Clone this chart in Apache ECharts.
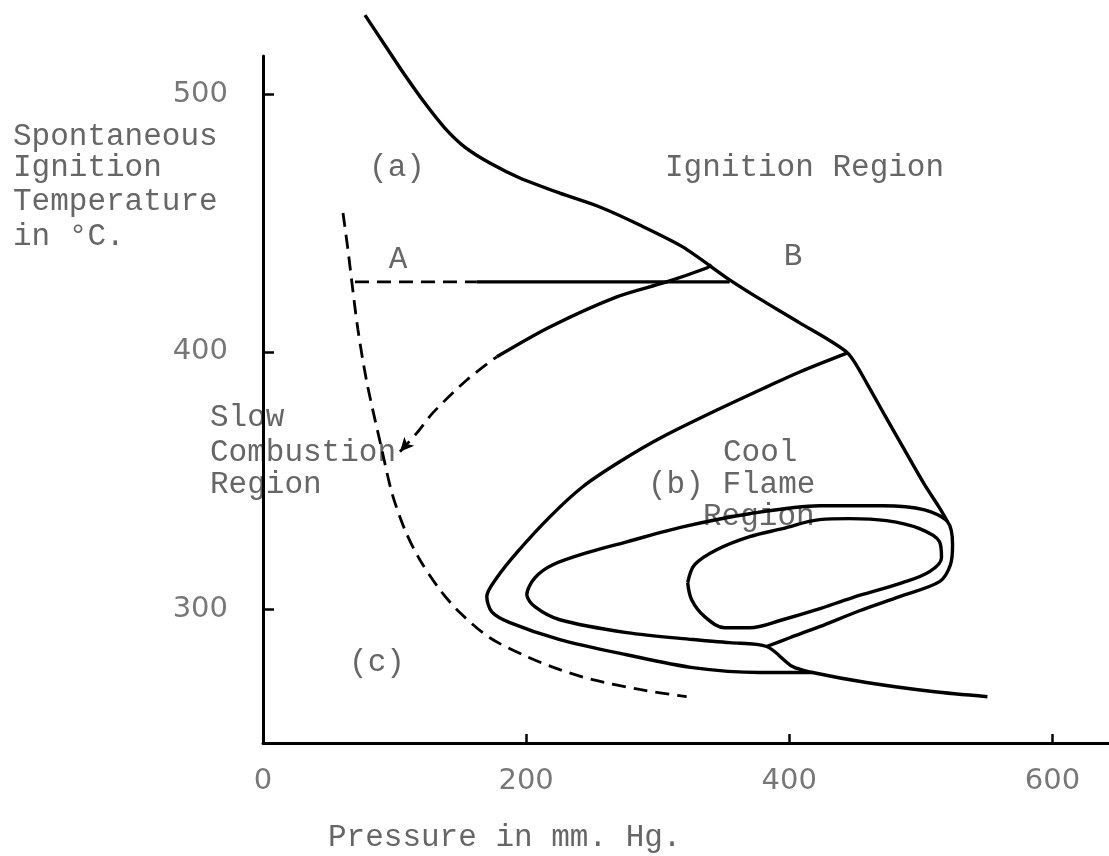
<!DOCTYPE html>
<html>
<head>
<meta charset="utf-8">
<script src="https://cdn.jsdelivr.net/npm/echarts@6/dist/echarts.min.js"></script>
<style>
html,body{margin:0;padding:0;background:#fff;}
#c{width:1109px;height:856px;}
</style>
</head>
<body>
<div id="c"></div>
<script>
// Axis ticks
const xTickValues = [200, 400, 600];
const xLabelValues = [0, 200, 400, 600];
const yTickValues = [300, 400, 500];

// Curves: [pressure (mm Hg), temperature (°C)]
const ignitionBoundary = [[77.5,530.9],[92.7,519.2],[107.8,507.6],[123.0,496.7],[138.2,487.0],[153.4,479.6],[172.4,473.4],[195.2,467.6],[225.6,461.7],[256.0,456.3],[286.3,449.3],[319.0,440.8],[354.7,428.0],[377.5,420.6],[407.9,411.3],[444.3,399.6],[458.7,388.0],[472.4,375.5],[487.6,361.9],[502.8,348.4],[514.2,339.4],[520.3,334.0]];
const coolFlameOuter = [[444.3,399.6],[407.9,392.2],[382.8,386.4],[347.1,377.9],[303.8,367.0],[271.1,357.3],[243.0,347.6],[218.0,335.9],[192.9,322.0],[177.7,312.2],[170.1,304.9],[173.9,299.0],[187.6,294.8],[225.6,288.2],[276.5,282.3],[326.6,277.3],[377.5,275.4],[417.7,275.4]];
const middleLoop = [[550.6,266.0],[508.9,268.0],[458.7,271.5],[417.7,275.4],[402.5,277.7],[382.8,285.5],[354.7,287.0],[326.6,288.2],[276.5,290.9],[225.6,295.9],[206.6,301.0],[200.5,305.6],[206.6,312.2],[220.3,317.3],[248.4,322.3],[276.5,326.2],[319.0,332.0],[369.9,337.1],[423.0,340.2],[470.9,340.2],[502.8,338.6],[520.3,334.0],[524.1,325.1],[522.5,317.3],[514.2,310.7],[483.8,304.9],[453.4,299.4],[423.0,293.2],[400.3,288.9],[382.8,285.5]];
const innerLoop = [[322.8,310.3],[328.1,317.3],[344.8,323.1],[369.9,328.2],[394.9,331.3],[423.0,334.8],[445.8,335.2],[473.9,334.4],[499.0,331.3],[514.2,326.2],[515.7,320.0],[506.6,314.6],[486.1,310.3],[448.1,304.5],[420.8,299.8],[394.9,295.9],[369.9,292.8],[350.9,292.8],[335.7,297.1],[325.8,303.7],[322.8,310.3]];
const slowBoundary = [[60.8,454.0],[64.6,439.6],[67.6,426.8],[72.2,408.5],[79.0,388.0],[90.4,361.9],[98.0,345.2],[107.8,330.9],[119.2,319.2],[134.4,307.6],[149.6,298.7],[172.4,288.9],[200.5,281.6],[225.6,276.5],[250.6,272.6],[286.3,268.8],[322.0,266.0]];
const lineABDashed = [[69.9,427.2],[162.5,427.2]];
const lineABSolid = [[162.5,427.2],[354.7,427.2]];
const arrowCurveDashed = [[104.1,361.2],[117.0,368.5],[129.1,376.3],[154.9,389.1],[177.7,398.1]];
const arrowCurveSolid = [[177.7,398.1],[218.0,409.7],[268.9,421.4],[306.8,427.2],[337.2,432.6],[341.0,433.8]];

const chart = echarts.init(document.getElementById('c'), null, {renderer:'canvas'});
const TXT = '#666';
const MONO = '"Liberation Mono", "DejaVu Sans Mono", monospace';
const FS = 31;

function solid(data, smooth) {
  return {type:'line', data:data, showSymbol:false, symbol:'none', smooth:smooth, clip:false,
    lineStyle:{color:'#000', width:3.4}, silent:true, animation:false};
}
function dashed(data, smooth) {
  return {type:'line', data:data, showSymbol:false, symbol:'none', smooth:smooth, clip:false,
    lineStyle:{color:'#000', width:2.8, type:[14,8]}, silent:true, animation:false};
}
function txt(text, x, y, align) {
  return {type:'text', x:x, y:y, silent:true,
    style:{text:text, font: FS + 'px ' + MONO, fill:TXT, textAlign:align || 'left', textVerticalAlign:'middle'}};
}

const arrowData = arrowCurveDashed.map((p, i) => i === 0
  ? {value:p, symbol:'arrow', symbolSize:[10,14], symbolRotate:138, itemStyle:{color:'#000'}}
  : {value:p, symbol:'none'});

chart.setOption({
  animation:false,
  backgroundColor:'#fff',
  grid:{left:263, top:56, width:846, bottom:113, containLabel:false},
  xAxis:{type:'value', min:0, max:643,
    axisLine:{onZero:false, lineStyle:{color:'#000', width:3}},
    axisTick:{show:true, inside:true, length:9, customValues:xTickValues, lineStyle:{color:'#000', width:2.5}},
    axisLabel:{customValues:xLabelValues, margin:24, fontSize:29, fontFamily:'"DejaVu Sans"', color:'#777'},
    splitLine:{show:false}},
  yAxis:{type:'value', min:248, max:515,
    axisLine:{show:true, onZero:false, lineStyle:{color:'#000', width:3}},
    axisTick:{show:true, inside:true, length:11, customValues:yTickValues, lineStyle:{color:'#000', width:2.5}},
    axisLabel:{customValues:yTickValues, margin:35, fontSize:29, fontFamily:'"DejaVu Sans"', color:'#777'},
    splitLine:{show:false}},
  series:[
    solid(ignitionBoundary, 0.25),
    solid(coolFlameOuter, 0.3),
    solid(middleLoop, 0.3),
    solid(innerLoop, 0.35),
    dashed(slowBoundary, 0.3),
    dashed(lineABDashed, false),
    solid(lineABSolid, false),
    Object.assign(dashed(arrowData, 0.3), {showSymbol:true}),
    solid(arrowCurveSolid, 0.3)
  ],
  graphic:[
    txt('Spontaneous', 13, 137),
    txt('Ignition', 13, 168),
    txt('Temperature', 13, 202),
    txt('in °C.', 13, 237),
    txt('(a)', 397, 168, 'center'),
    txt('Ignition Region', 665, 168),
    txt('A', 398, 260, 'center'),
    txt('B', 793, 257, 'center'),
    txt('Slow', 210, 418),
    txt('Combustion', 210, 453),
    txt('Region', 210, 485),
    txt('Cool', 723, 453),
    txt('(b) Flame', 648, 485),
    txt('Region', 703, 517),
    txt('(c)', 377, 663, 'center'),
    txt('Pressure in mm. Hg.', 328, 838)
  ]
});
</script>
</body>
</html>
